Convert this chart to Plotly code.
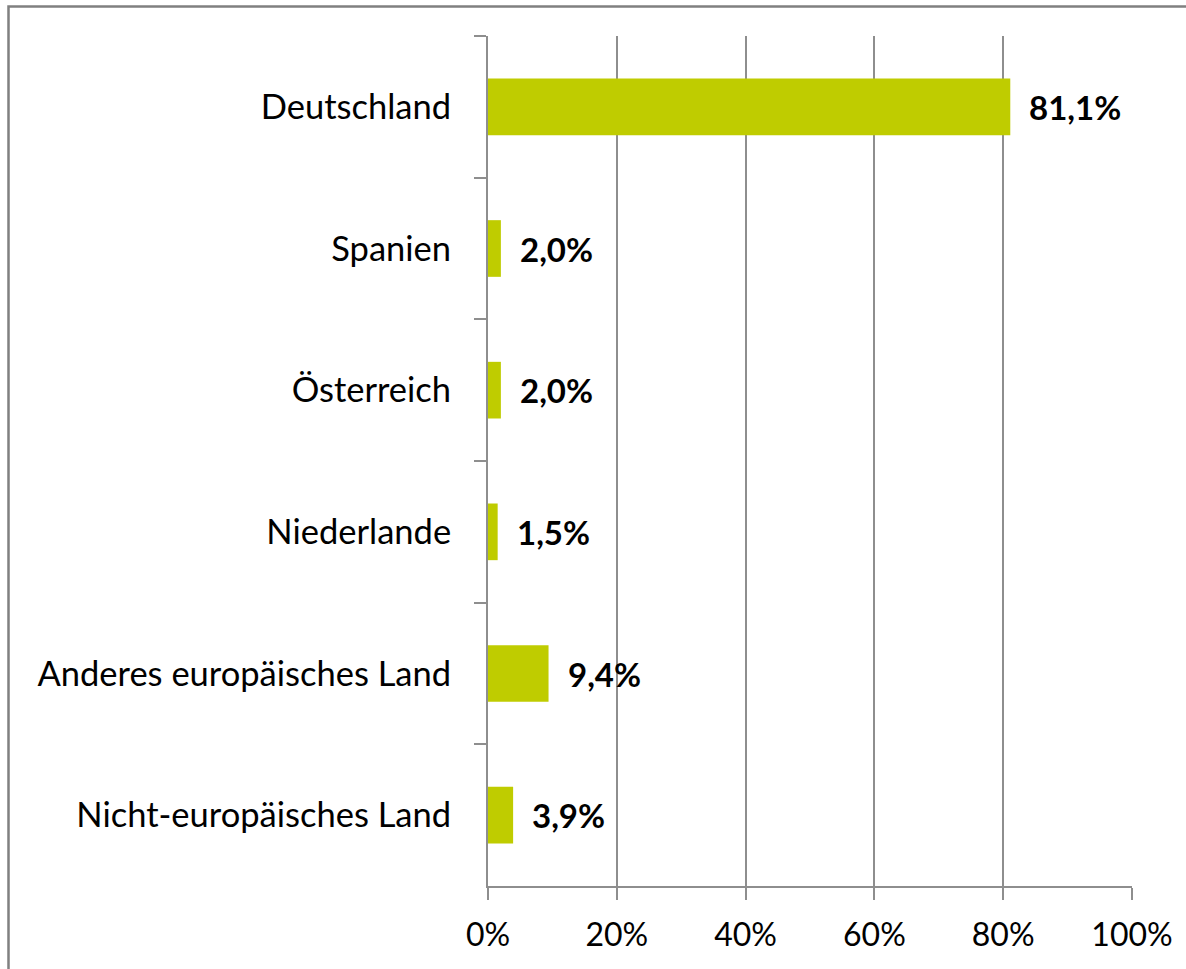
import plotly.graph_objects as go

categories = ["Deutschland", "Spanien", "Österreich", "Niederlande",
              "Anderes europäisches Land", "Nicht-europäisches Land"]
values = [81.1, 2.0, 2.0, 1.5, 9.4, 3.9]
labels = ["81,1%", "2,0%", "2,0%", "1,5%", "9,4%", "3,9%"]
x_ticks = [0, 20, 40, 60, 80, 100]
x_tick_labels = ["0%", "20%", "40%", "60%", "80%", "100%"]

FONT = "Lato"
GRID = "#8E8E8E"

fig = go.Figure()
fig.add_trace(go.Bar(
    x=values, y=categories, orientation="h",
    marker=dict(color="#BFCC00", line=dict(width=0)),
    width=0.4, hoverinfo="skip",
))

for c, v, t in zip(categories, values, labels):
    fig.add_annotation(x=v, y=c, text=f"<b>{t}</b>", showarrow=False,
                       xanchor="left", yanchor="middle", xshift=17,
                       font=dict(family=FONT, size=33, color="black"))

fig.update_layout(
    width=1186, height=969,
    margin=dict(l=488, r=54, t=36, b=83),
    paper_bgcolor="white", plot_bgcolor="white",
    showlegend=False,
    font=dict(family=FONT, size=32, color="black"),
    xaxis=dict(range=[0, 100], tickvals=x_ticks, ticktext=x_tick_labels,
               showgrid=True, gridcolor=GRID, gridwidth=2,
               showline=True, linecolor=GRID, linewidth=2,
               ticks="outside", ticklen=12, tickwidth=2, tickcolor=GRID,
               zeroline=False, ticklabelstandoff=8,
               tickfont=dict(family=FONT, size=32, color="black"), fixedrange=True),
    yaxis=dict(type="category", categoryorder="array", categoryarray=categories,
               range=[5.5, -0.5], tickson="boundaries",
               showgrid=False, showline=True, linecolor=GRID, linewidth=2,
               ticks="outside", ticklen=12, tickwidth=2, tickcolor=GRID,
               ticklabelstandoff=28,
               tickfont=dict(family=FONT, size=34.5, color="black"), fixedrange=True),
    shapes=[dict(type="rect", xref="paper", yref="paper",
                 x0=(8.5 - 488) / 644, x1=2.0,
                 y0=-1.0, y1=(886 - 6.5) / 850,
                 line=dict(color="#808080", width=2.5), fillcolor="rgba(0,0,0,0)",
                 layer="below")],
)

fig.write_html("out.html",
               config={"displayModeBar": False, "staticPlot": True},
               post_script="document.body.style.margin='0';"
                           "document.body.style.overflow='hidden';"
                           "document.documentElement.style.overflow='hidden';")
